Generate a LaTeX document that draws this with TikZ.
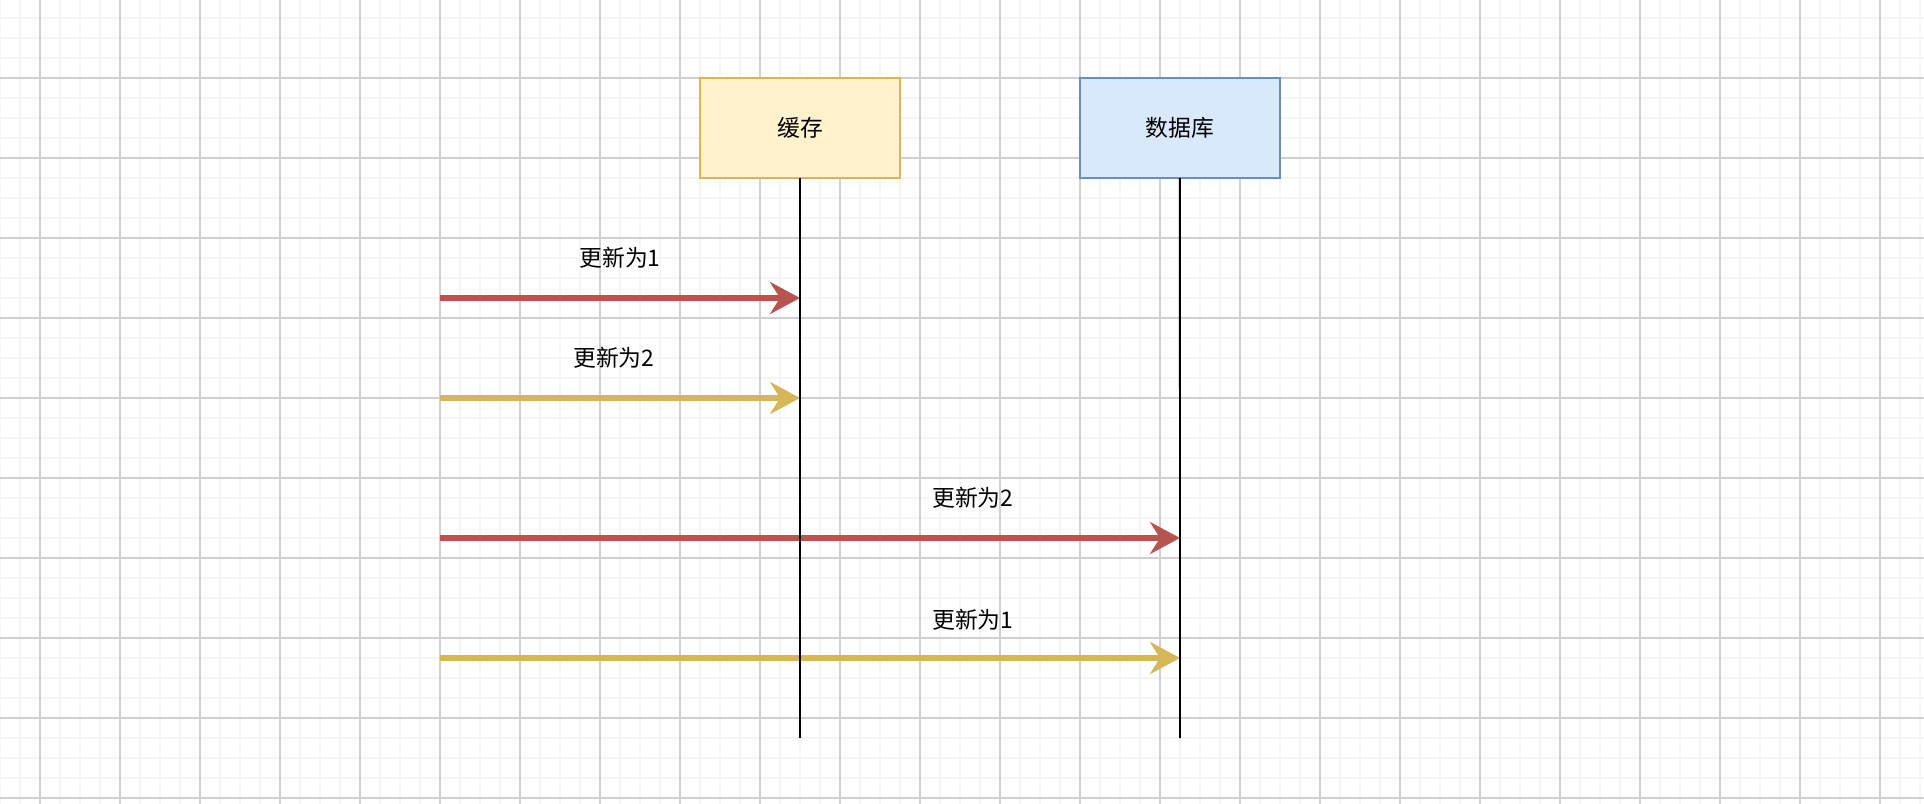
\documentclass[tikz,border=0pt]{standalone}
\usepackage{fontspec}
\setmainfont{Liberation Sans}
\newfontfamily\cjk{Noto Sans CJK SC}
\usetikzlibrary{arrows.meta,positioning}
\definecolor{cachefill}{HTML}{FFF2CC}
\definecolor{cacheline}{HTML}{D6B656}
\definecolor{dbfill}{HTML}{DAE8FC}
\definecolor{dbline}{HTML}{6C8EBF}
\definecolor{redflow}{HTML}{B85450}
\definecolor{yellowflow}{HTML}{D6B656}
\definecolor{gridminor}{HTML}{F5F5F5}
\definecolor{gridmajor}{HTML}{D0D0D0}

\begin{document}
\begin{tikzpicture}[
  x=0.02cm, y=-0.02cm,
  font=\cjk\fontsize{13}{15}\selectfont,
  minorgrid/.style={draw=gridminor, line width=0.85pt},
  majorgrid/.style={draw=gridmajor, line width=0.6pt},
  cachebox/.style={draw=cacheline, fill=cachefill, line width=1.1pt, minimum width=4cm, minimum height=2cm, inner sep=0pt, outer sep=0pt},
  dbbox/.style={draw=dbline, fill=dbfill, line width=1.1pt, minimum width=4cm, minimum height=2cm, inner sep=0pt, outer sep=0pt},
  lifeline/.style={draw=black, line width=1.1pt},
  msg/.style={inner sep=0pt, text=black},
  flow/.style={line width=3.4pt, -{Stealth[length=6mm, width=6.4mm, inset=2mm]}},
  redarrow/.style={flow, color=redflow},
  yellowarrow/.style={flow, color=yellowflow}
]
\useasboundingbox (0,0) rectangle (1924,804);
% background grid
\foreach \gx in {0,20,...,1920} \draw[minorgrid] (\gx,0) -- (\gx,804);
\foreach \gy in {18,38,...,798} \draw[minorgrid] (0,\gy) -- (1924,\gy);
\foreach \gx in {40,120,...,1880} \draw[majorgrid] (\gx,0) -- (\gx,804);
\foreach \gy in {78,158,...,798} \draw[majorgrid] (0,\gy) -- (1924,\gy);

\node[cachebox] (cache) at (800,128) {缓存};
\node[dbbox, right=3.6cm of cache] (db) {数据库};
\coordinate (cacheend) at (800,738);
\coordinate (dbend) at (1180,738);

\coordinate (src1) at (440,298);
\coordinate (src2) at (440,398);
\coordinate (src3) at (440,538);
\coordinate (src4) at (440,658);
\draw[redarrow] (src1) -- (src1 -| cacheend) node[msg, pos=.5, above=5.4mm] (up1) {更新为1};
\draw[yellowarrow] (src2) -- (src2 -| cacheend) node[msg, pos=.483, above=5.4mm] (up2) {更新为2};
\draw[redarrow] (src3) -- (src3 -| dbend) node[msg, pos=.72, above=5.4mm] (up3) {更新为2};
\draw[yellowarrow] (src4) -- (src4 -| dbend) node[msg, pos=.72, above=5mm] (up4) {更新为1};

\draw[lifeline] (cache.south) -- (cacheend);
\draw[lifeline] (db.south) -- (dbend);
\end{tikzpicture}
\end{document}
